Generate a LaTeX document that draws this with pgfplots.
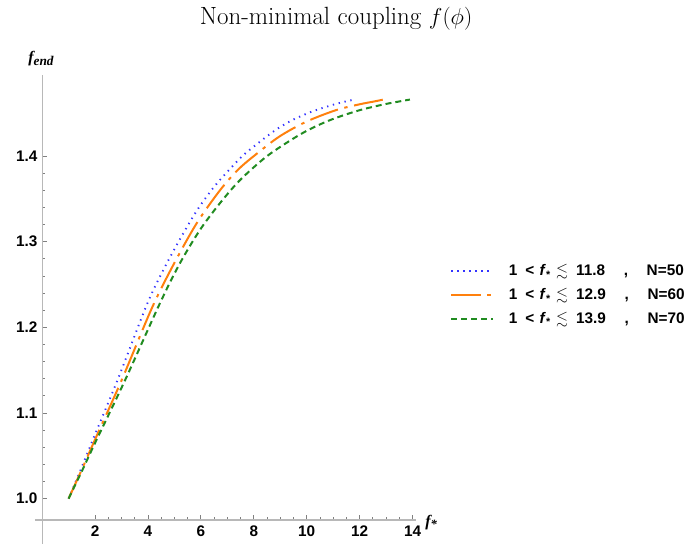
\documentclass[border=0pt]{standalone}
\usepackage{fontspec}
\usepackage{amssymb}
\usepackage{pgfplots}
\pgfplotsset{compat=1.18}
\newfontfamily\arial{Liberation Sans}
\newfontfamily\tnr{Liberation Serif}
\definecolor{c50}{rgb}{0.2,0.2,1}
\definecolor{c60}{rgb}{1,0.5,0.05}
\definecolor{c70}{rgb}{0.13,0.55,0.13}
\definecolor{axcol}{gray}{0.72}
\definecolor{tkcol}{gray}{0.5}
\newcommand{\legtxt}[2]{1\hspace{6pt}<\hspace{4pt}\textit{f}\textsubscript{*}\hspace{4pt}$\lesssim$\hspace{6pt}#1\hspace{14pt},\hspace{14pt}N=#2}

\begin{document}
\begin{tikzpicture}
\useasboundingbox (-26.25pt,-18pt) rectangle (493.5pt,390pt);
\begin{axis}[at={(0pt,0pt)}, anchor=south west, scale only axis,
  width=285.75pt, height=333.75pt,
  xmin=-0.27, xmax=14.13, ymin=0.975, ymax=1.4947,
  axis lines=middle, axis line style={axcol, line width=0.9pt, -},
  tick align=inside, major tick length=3.5pt, minor tick length=2pt,
  every tick/.style={tkcol, line width=0.6pt},
  xtick={2,4,...,14}, ytick={1.0,1.1,1.2,1.3,1.4},
  minor x tick num=3, minor y tick num=4,
  ticklabel style={font=\arial\bfseries\fontsize{11.5}{13}\selectfont},
  xticklabel style={yshift=-1pt},
  yticklabel style={/pgf/number format/.cd, fixed, fixed zerofill, precision=1},
  /pgf/number format/assume math mode=true,
  clip=false,
  legend cell align=left,
  legend style={at={(1.089,0.5056)}, anchor=west, draw=none, fill=none,
    inner sep=0pt, row sep=4pt, font=\arial\bfseries\fontsize{11.5}{13}\selectfont,
    /tikz/every odd column/.append style={column sep=9pt}},
  legend image code/.code={\draw[#1] (0pt,0pt) -- (31.5pt,0pt);},
]
\addplot[c50, line width=1.4pt, dash pattern=on 1pt off 3.5pt, smooth] coordinates {
(1.00,1.000) (1.50,1.037) (2.00,1.075) (2.87,1.140) (3.95,1.226) (4.58,1.267)
(5.21,1.303) (5.84,1.336) (6.47,1.363) (7.10,1.385) (7.60,1.401) (8.20,1.416)
(8.80,1.430) (9.45,1.442) (10.20,1.452) (11.00,1.460) (11.50,1.464) (11.80,1.466)};
\addlegendentry{\legtxt{11.8}{50}}
\addplot[c60, line width=1.5pt, dash pattern=on 22pt off 5pt on 2.5pt off 5pt, smooth] coordinates {
(1.00,1.000) (1.50,1.034) (2.00,1.069) (3.00,1.138) (4.14,1.222) (4.96,1.273)
(5.84,1.3215) (6.72,1.360) (7.40,1.384) (8.00,1.400) (8.95,1.4225) (9.97,1.440)
(11.10,1.4536) (12.00,1.4605) (12.50,1.4635) (12.90,1.466)};
\addlegendentry{\legtxt{12.9}{60}}
\addplot[c70, line width=1.5pt, dash pattern=on 4.5pt off 3pt, smooth] coordinates {
(1.00,1.000) (1.50,1.032) (2.00,1.065) (3.13,1.138) (4.45,1.228) (5.21,1.275)
(5.97,1.314) (6.72,1.345) (7.48,1.372) (8.50,1.400) (9.60,1.4225) (10.29,1.434)
(11.05,1.444) (12.00,1.4536) (12.95,1.4606) (13.90,1.466)};
\addlegendentry{\legtxt{13.9}{70}}
\draw[axcol, line width=0.9pt] (axis cs:0,0.975) -- ++(0pt,-18pt);
\end{axis}
\node[font=\fontsize{18.7}{22}\selectfont] at (225.75pt,375.75pt) {Non-minimal coupling $f(\phi)$};
\node[anchor=base west, inner sep=0pt] at (-5.25pt,342.75pt)
  {\tnr\bfseries\itshape\fontsize{12}{14}\selectfont f\raisebox{-0.35ex}{\fontsize{10}{12}\selectfont end}};
\node[anchor=base west, inner sep=0pt] at (292.5pt,-4.5pt)
  {\tnr\bfseries\itshape\fontsize{12}{14}\selectfont f\raisebox{-0.4ex}{\fontsize{9.5}{11}\selectfont *}};
\end{tikzpicture}
\end{document}
